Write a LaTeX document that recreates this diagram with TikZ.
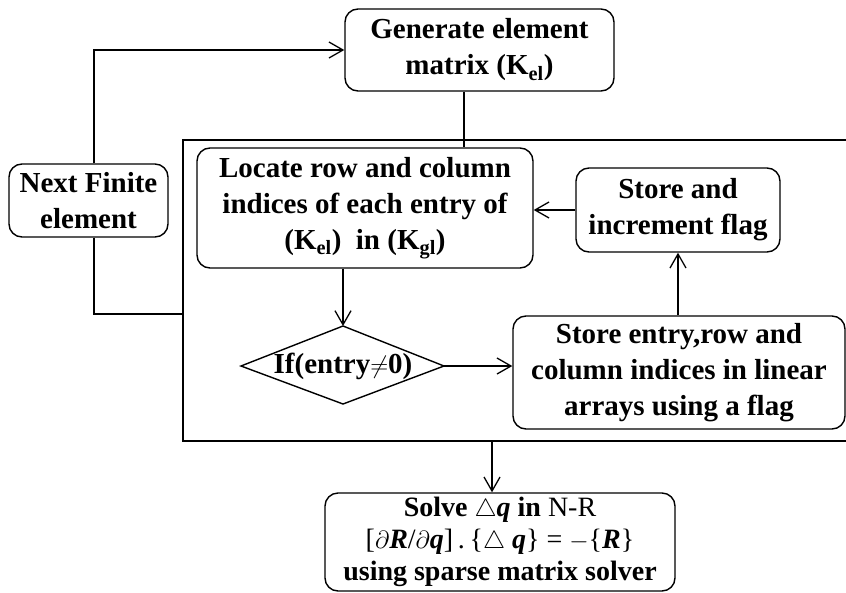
\documentclass[tikz,border=0pt]{standalone}
\usepackage{fontspec}
\setmainfont{Liberation Serif}
\usetikzlibrary{arrows.meta}
\begin{document}
\begin{tikzpicture}[x=1pt,y=-1pt,
  every node/.style={font=\bfseries\fontsize{29}{36}\selectfont},
  box/.style={draw, rounded corners=13pt, line width=1.4pt, align=center, inner sep=0pt},
  arr/.style={-{Straight Barb[length=14pt,width=16pt]}, line width=1.3pt},
  ln/.style={line width=1.3pt},
  dln/.style={line width=1.4pt, line join=miter}]
\useasboundingbox (0,0) rectangle (846,592);

% nodes
\node[box, minimum width=269pt, minimum height=82pt] (gen) at (479.5,50)
  {Generate element\\ matrix (K\textsubscript{el})};
\node[box, minimum width=159pt, minimum height=73pt] (next) at (88.5,200.5)
  {Next Finite\\ element};
\node[box, minimum width=336pt, minimum height=120pt] (loc) at (365,208)
  {Locate row and column\\ indices of each entry of\\ (K\textsubscript{el})\ \ in (K\textsubscript{gl})};
\node[box, minimum width=332pt, minimum height=113pt] (sto) at (679,372.5)
  {Store entry,row and\\ column indices in linear\\ arrays using a flag};
\node[box, minimum width=204pt, minimum height=84pt] (inc) at (678,210)
  {Store and\\ increment flag};
\node[box, minimum width=350pt, minimum height=98pt,
      font=\bfseries\fontsize{28}{32}\selectfont] (sol) at (500,542)
  {Solve $\triangle$\textit{q} in {\mdseries N-R}\\
   {\mdseries [$\partial$\textbf{\textit{R}}/$\partial$\textbf{\textit{q}}]\,.\,\{$\triangle$\ \textbf{\textit{q}}\} = $-$\{\textbf{\textit{R}}\}}\\
   using sparse matrix solver};

% decision diamond
\coordinate (dt) at (343,326);
\coordinate (dr) at (444,366);
\coordinate (db) at (343,404);
\coordinate (dl) at (241,366);
\draw[dln] (dt) -- (dr) -- (db) -- (dl) -- cycle;
\node (dia) at (343,366) {If(entry$\neq$0)};

% frame (open to the right)
\coordinate (ftr) at (846,140);
\coordinate (ftl) at (183,140);
\coordinate (fbl) at (183,441);
\coordinate (fbr) at (846,441);
\draw[ln] (ftr) -- (ftl) -- (fbl) -- (fbr);

% loop
\coordinate (lx) at (94,0);
\coordinate (fl) at (183,314);
\draw[arr] (next.north -| lx) |- (gen.west);
\draw[ln] (next.south -| lx) |- (fl);

% generate -> locate
\coordinate (gx) at (464,0);
\draw[ln] (gen.south -| gx) -- (loc.north -| gx);

% locate -> decision
\draw[arr] (loc.south -| dt) -- (dt);
% decision -> store entry
\draw[arr] (dr) -- (dr -| sto.west);
% store entry -> increment
\draw[arr] (sto.north -| inc.south) -- (inc.south);
% increment -> locate
\draw[arr] (inc.west) -- (inc.west -| loc.east);

% frame -> solve
\coordinate (fb) at (492,441);
\draw[arr] (fb) -- (fb |- sol.north);
\end{tikzpicture}
\end{document}
